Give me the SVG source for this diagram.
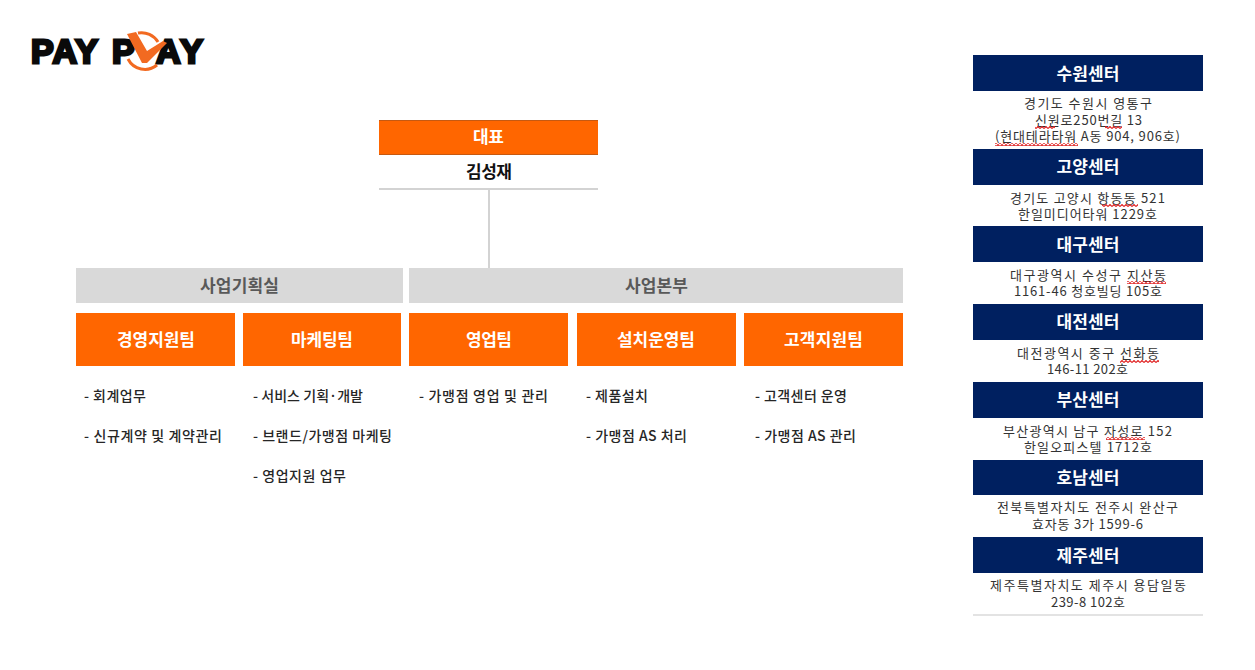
<svg xmlns="http://www.w3.org/2000/svg" width="1255" height="670" viewBox="0 0 1255 670">
<style>
text{font-family:"Noto Sans CJK KR","Liberation Sans",sans-serif;text-anchor:middle}
.o{fill:#ff6600}.g{fill:#d9d9d9}.n{fill:#002060}
.w{fill:#fff;font-size:17px;font-weight:700}
.gt{fill:#595959;font-size:17px;font-weight:700}
.ct{fill:#fff;font-size:17px;font-weight:700}
.a{fill:#333;font-size:13px}
.b{fill:#262626;font-size:14px;font-weight:500;text-anchor:start}
.ln{stroke:#d3d3d3;stroke-width:2;fill:none}
.sq{fill:url(#zig)}
.logo{font-family:"Liberation Sans",sans-serif;font-weight:700;font-size:34px;fill:#0a0a0a;stroke:#0a0a0a;stroke-width:2.800;text-anchor:start}
</style>
<defs>
<pattern id="zig" width="4" height="3" patternUnits="userSpaceOnUse"><path d="M0 2.500L2 .5L4 2.500" fill="none" stroke="#e02020" stroke-width="1.100"/></pattern>
</defs>
<rect width="1255" height="670" fill="#fff"/>
<g id="logo">
<text class="logo" x="31" y="63" textLength="67">PAY</text>
<text class="logo" x="112" y="63">P</text>
<text class="logo" x="156" y="63" textLength="47">AY</text>
<path d="M138 33A19 19 0 0 1 158 42M128 59A19 19 0 0 0 157 65" fill="none" stroke="#f26a21" stroke-width="3"/>
<path d="M127 34L136 32L147 51L163 41L167 43L147 63L142 63Z" fill="#f26a21"/>
</g>
<g id="connectors"><path class="ln" d="M489 189V268"/></g>
<g id="ceo">
<rect class="o" x="379" y="120" width="219" height="35"/><path d="M379 120.500H598M379 154.500H598" stroke="#c65911" fill="none"/>
<text class="w" x="488.500" y="143" font-size="16.500" textLength="31">대표</text>
<text x="489" y="178" font-size="17" font-weight="700" fill="#111" textLength="46">김성재</text>
<path class="ln" d="M379 189H598"/>
</g>
<g id="div1"><rect class="g" x="76" y="268" width="327" height="35"/><text class="gt" x="239.500" y="292" textLength="79">사업기획실</text></g>
<g id="div2"><rect class="g" x="409" y="268" width="494" height="35"/><text class="gt" x="656.500" y="292" textLength="63">사업본부</text></g>
<g id="team1"><rect class="o" x="76" y="313" width="159" height="53"/><text class="w" x="156" y="346" textLength="78">경영지원팀</text>
<text class="b" x="84" y="401" textLength="62">- 회계업무</text><text class="b" x="84" y="441" textLength="138">- 신규계약 및 계약관리</text></g>
<g id="team2"><rect class="o" x="243" y="313" width="158" height="53"/><text class="w" x="322" y="346" textLength="62">마케팅팀</text>
<text class="b" x="253" y="401" textLength="110">- 서비스 기획·개발</text><text class="b" x="253" y="441" textLength="139">- 브랜드/가맹점 마케팅</text><text class="b" x="253" y="481" textLength="93">- 영업지원 업무</text></g>
<g id="team3"><rect class="o" x="409" y="313" width="159" height="53"/><text class="w" x="489" y="346" textLength="46">영업팀</text>
<text class="b" x="419" y="401" textLength="129">- 가맹점 영업 및 관리</text></g>
<g id="team4"><rect class="o" x="577" y="313" width="159" height="53"/><text class="w" x="656" y="346" textLength="78">설치운영팀</text>
<text class="b" x="586" y="401" textLength="62">- 제품설치</text><text class="b" x="586" y="441" textLength="101">- 가맹점 AS 처리</text></g>
<g id="team5"><rect class="o" x="744" y="313" width="159" height="53"/><text class="w" x="823.500" y="346" textLength="79">고객지원팀</text>
<text class="b" x="755" y="401" textLength="92">- 고객센터 운영</text><text class="b" x="755" y="441" textLength="101">- 가맹점 AS 관리</text></g>
<g id="c1"><rect class="n" x="973" y="55" width="230" height="36"/><text class="ct" x="1088" y="80" textLength="63">수원센터</text>
<text class="a" x="1088" y="108" textLength="128">경기도 수원시 영통구</text><text class="a" x="1088.500" y="125" textLength="107">신원로250번길 13</text><text class="a" x="1087.500" y="141" textLength="185">(현대테라타워 A동 904, 906호)</text>
<rect class="sq" x="1035" y="126" width="20" height="3"/><rect class="sq" x="1105" y="126" width="17" height="3"/><rect class="sq" x="995" y="143" width="83" height="3"/></g>
<g id="c2"><rect class="n" x="973" y="149" width="230" height="36"/><text class="ct" x="1088" y="173" textLength="63">고양센터</text>
<text class="a" x="1087.500" y="203" textLength="155">경기도 고양시 항동동 521</text><text class="a" x="1087.500" y="219" textLength="139">한일미디어타워 1229호</text>
<rect class="sq" x="1102" y="204" width="36" height="3"/></g>
<g id="c3"><rect class="n" x="973" y="226" width="230" height="36"/><text class="ct" x="1088" y="251" textLength="63">대구센터</text>
<text class="a" x="1088" y="280" textLength="156">대구광역시 수성구 지산동</text><text class="a" x="1088" y="296" textLength="148">1161-46 청호빌딩 105호</text>
<rect class="sq" x="1127" y="281" width="39" height="3"/></g>
<g id="c4"><rect class="n" x="973" y="304" width="230" height="36"/><text class="ct" x="1088" y="328" textLength="63">대전센터</text>
<text class="a" x="1088" y="358" textLength="142">대전광역시 중구 선화동</text><text class="a" x="1087.500" y="374" textLength="81">146-11 202호</text>
<rect class="sq" x="1120" y="360" width="39" height="3"/></g>
<g id="c5"><rect class="n" x="973" y="382" width="230" height="36"/><text class="ct" x="1088" y="406" textLength="63">부산센터</text>
<text class="a" x="1087.500" y="436" textLength="169">부산광역시 남구 자성로 152</text><text class="a" x="1088" y="452" textLength="128">한일오피스텔 1712호</text>
<rect class="sq" x="1106" y="437" width="39" height="3"/></g>
<g id="c6"><rect class="n" x="973" y="460" width="230" height="35"/><text class="ct" x="1088" y="484" textLength="63">호남센터</text>
<text class="a" x="1087.500" y="512" textLength="181">전북특별자치도 전주시 완산구</text><text class="a" x="1087.500" y="529" textLength="111">효자동 3가 1599-6</text></g>
<g id="c7"><rect class="n" x="973" y="537" width="230" height="36"/><text class="ct" x="1088" y="562" textLength="63">제주센터</text>
<text class="a" x="1088" y="590" textLength="196">제주특별자치도 제주시 용담일동</text><text class="a" x="1088" y="607" textLength="74">239-8 102호</text>
<path d="M973 615H1203" stroke="#e3e3e3" stroke-width="2"/></g>
</svg>
